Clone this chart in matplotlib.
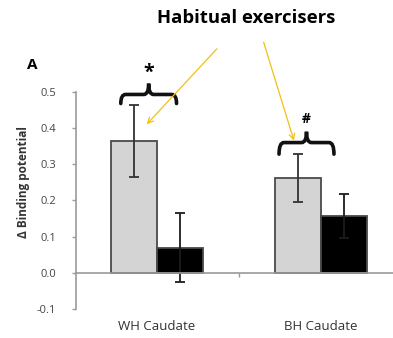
import matplotlib
matplotlib.use('Agg')
import matplotlib.pyplot as plt
from matplotlib.path import Path
from matplotlib.patches import PathPatch
import numpy as np

plt.rcParams['font.family'] = ['Open Sans', 'DejaVu Sans']

groups = ['WH Caudate', 'BH Caudate']
exercisers = [0.365, 0.262]
exercisers_err = [0.10, 0.067]
others = [0.069, 0.157]
others_err = [0.095, 0.060]
marks = ['*', '#']

gray_txt = '#444444'
axis_col = '#9a9a9a'
arrow_col = '#f2c012'


def brace(ax, x0, x1, y, drop, rise, dx):
    # horizontal curly bracket, opening downward
    xc = (x0 + x1) / 2
    verts = [
        (x0, y - drop), (x0, y), (x0 + dx, y),
        (xc - dx, y), (xc, y), (xc, y + rise),
        (xc, y), (xc + dx, y),
        (x1 - dx, y), (x1, y), (x1, y - drop),
    ]
    codes = [Path.MOVETO, Path.CURVE3, Path.CURVE3,
             Path.LINETO, Path.CURVE3, Path.CURVE3,
             Path.CURVE3, Path.CURVE3,
             Path.LINETO, Path.CURVE3, Path.CURVE3]
    ax.add_patch(PathPatch(Path(verts, codes), fill=False, lw=2.6,
                           ec='#111111', capstyle='round', clip_on=False))


fig = plt.figure(figsize=(3.93, 3.38), dpi=100)
ax = fig.add_axes([0.193, 0.086, 0.807, 0.642])

x = np.arange(len(groups))
w = 0.28
ek = dict(ecolor='#333333', elinewidth=1.3, capsize=3.5, capthick=1.3)
ax.bar(x - w / 2, exercisers, w, color='#d4d4d4', edgecolor='#4a4a4a', lw=1.3,
       yerr=exercisers_err, error_kw=ek)
ax.bar(x + w / 2, others, w, color='black', edgecolor='#4a4a4a', lw=1.3,
       yerr=others_err, error_kw=dict(ek, ecolor='#1c1c1c'))

ax.set_xlim(-0.494, 1.44)
ax.set_ylim(-0.1, 0.5)
ticks = np.arange(-0.1, 0.51, 0.1)
ax.set_yticks(ticks)
ax.set_yticklabels(['%.1f' % v for v in ticks])
ax.set_xticks([0.5])
ax.set_xticklabels([''])
ax.tick_params(axis='y', colors=axis_col, labelcolor=gray_txt, labelsize=8, length=3, width=1, pad=11)
ax.tick_params(axis='x', colors=axis_col, length=3, width=1)

for s in ['top', 'right']:
    ax.spines[s].set_visible(False)
ax.spines['left'].set_color(axis_col)
ax.spines['bottom'].set_color(axis_col)
ax.spines['bottom'].set_position(('data', 0))
ax.spines['left'].set_linewidth(1.2)
ax.spines['bottom'].set_linewidth(1.2)

for i, g in enumerate(groups):
    ax.text(x[i], -0.148, g, ha='center', va='center', fontsize=9.5, color='#333333')

ax.set_ylabel('Δ Binding potential', fontsize=8.5, fontweight='bold', color='#333333')
ax.yaxis.set_label_coords(-0.145, 0.585)

# significance braces
brace(ax, -0.22, 0.12, 0.493, 0.025, 0.03, 0.03)
ax.text(-0.05, 0.553, marks[0], ha='center', va='center', fontsize=14, fontweight='bold')
brace(ax, 0.745, 1.08, 0.36, 0.032, 0.03, 0.03)
ax.text(0.912, 0.424, marks[1], ha='center', va='center', fontsize=10, fontweight='bold')

fig.text(0.081, 0.808, 'A', fontsize=11, fontweight='bold', ha='center', va='center')
fig.text(0.626, 0.947, 'Habitual exercisers', fontsize=13.3, fontweight='bold',
         ha='center', va='center')

ax.annotate('', xy=(-0.073, 0.405), xytext=(0.378, 0.625), annotation_clip=False,
            arrowprops=dict(arrowstyle='->', color=arrow_col, lw=0.9))
ax.annotate('', xy=(0.841, 0.358), xytext=(0.646, 0.645), annotation_clip=False,
            arrowprops=dict(arrowstyle='->', color=arrow_col, lw=0.9))

fig.savefig('out.png', dpi=100)
